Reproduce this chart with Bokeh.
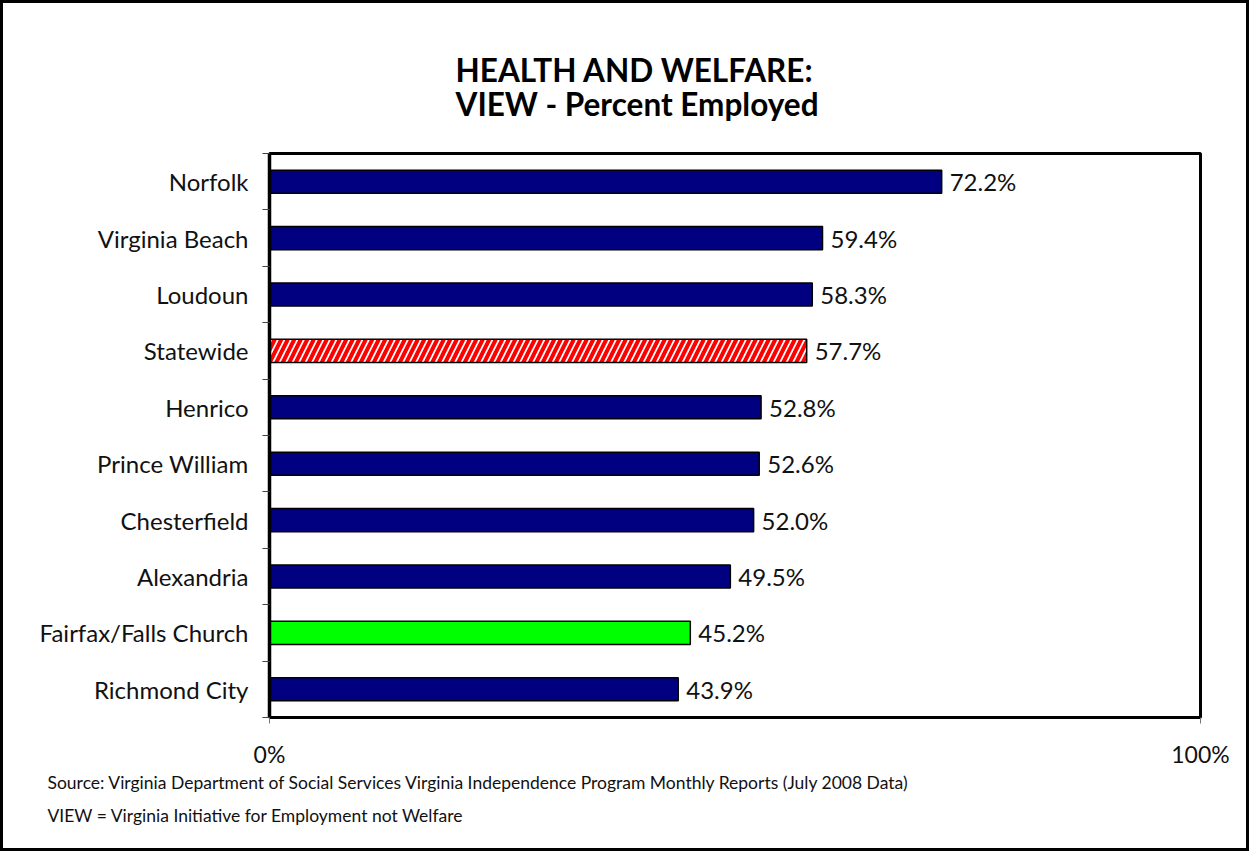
from bokeh.plotting import figure
from bokeh.models import Range1d, FixedTicker, ColumnDataSource, Title
from bokeh.core.properties import value
from bokeh.embed import file_html
from bokeh.resources import INLINE

categories = ["Norfolk", "Virginia Beach", "Loudoun", "Statewide", "Henrico",
              "Prince William", "Chesterfield", "Alexandria",
              "Fairfax/Falls Church", "Richmond City"]
values = [72.2, 59.4, 58.3, 57.7, 52.8, 52.6, 52.0, 49.5, 45.2, 43.9]
colors = ["#000080", "#000080", "#000080", "white", "#000080", "#000080",
          "#000080", "#000080", "#00FF00", "#000080"]
hatches = [" ", " ", " ", "/", " ", " ", " ", " ", " ", " "]
x_ticks = [0, 100]
x_tick_labels = {0: "0%", 100: "100%"}
title_lines = ["HEALTH AND WELFARE:", "VIEW - Percent Employed"]
notes = ["Source: Virginia Department of Social Services Virginia Independence Program Monthly Reports (July 2008 Data)",
         "VIEW = Virginia Initiative for Employment not Welfare"]

FONT = "Lato"
n = len(categories)
ys = [n - i - 0.5 for i in range(n)]

src = ColumnDataSource(dict(
    y=ys, v=values, c=colors, h=hatches,
    lab=[f"{v:.1f}%" for v in values],
))

p = figure(frame_width=931, frame_height=564,
           min_border_left=266, min_border_right=46,
           min_border_top=150, min_border_bottom=131,
           x_range=Range1d(0, 100), y_range=Range1d(0, n),
           output_backend="svg", toolbar_location=None)
p.styles = {"border": "3px solid black"}

p.hbar(y="y", right="v", left=0, height=0.41, source=src,
       fill_color="c", line_color="black", line_width=1.5,
       hatch_pattern="h", hatch_color="red", hatch_scale=13, hatch_weight=4)

p.text(x="v", y="y", text="lab", source=src, x_offset=8,
       text_baseline="middle", text_align="left",
       text_font=value(FONT), text_font_size="24px", text_color="#111111")

p.grid.visible = False
p.outline_line_color = "black"
p.outline_line_width = 3

# y axis
ya = p.yaxis[0]
ya.ticker = FixedTicker(ticks=ys, minor_ticks=list(range(n + 1)))
ya.major_label_overrides = {y: c for y, c in zip(ys, categories)}
ya.major_tick_line_color = None
ya.major_tick_out = 0
ya.major_tick_in = 0
ya.minor_tick_line_color = "#444444"
ya.minor_tick_out = 7
ya.minor_tick_in = 0
ya.axis_line_color = "black"
ya.axis_line_width = 3.5
ya.major_label_text_font = FONT
ya.major_label_text_font_size = "24px"
ya.major_label_text_color = "#111111"
ya.major_label_standoff = 14

# x axis
xa = p.xaxis[0]
xa.ticker = FixedTicker(ticks=x_ticks, minor_ticks=[])
xa.major_label_overrides = x_tick_labels
xa.major_tick_line_color = "#777777"
xa.major_tick_out = 6
xa.major_tick_in = 0
xa.axis_line_color = "black"
xa.axis_line_width = 3
xa.major_label_text_font = FONT
xa.major_label_text_font_size = "23px"
xa.major_label_text_color = "#111111"
xa.major_label_standoff = 16

# title (two lines)
p.add_layout(Title(text="\n".join(title_lines), align="left", offset=186,
                   standoff=60, text_font=FONT, text_font_size="31.5px",
                   text_line_height=0.9,
                   text_font_style="bold", text_color="black"), "above")

# notes below
p.add_layout(Title(text=notes[0], align="left", offset=-222, standoff=-2,
                   text_font=FONT, text_font_size="17.5px", text_font_style="normal",
                   text_color="#111111"), "below")
p.add_layout(Title(text=notes[1], align="left", offset=-222, standoff=22,
                   text_font=FONT, text_font_size="17.5px", text_font_style="normal",
                   text_color="#111111"), "below")

open("out.html", "w").write(file_html(p, INLINE))
